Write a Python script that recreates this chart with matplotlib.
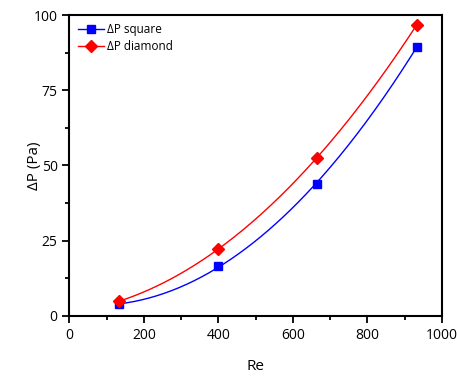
import numpy as np
import matplotlib
matplotlib.use("Agg")
import matplotlib.pyplot as plt
from matplotlib.ticker import MultipleLocator

re_vals = [133, 399, 664, 932]
dp_square = [3.8, 16.6, 43.8, 89.4]
dp_diamond = [4.8, 22.3, 52.4, 96.7]

plt.rcParams['font.family'] = ['Open Sans', 'DejaVu Sans']

fig = plt.figure(figsize=(4.57, 3.76), dpi=100)
ax = fig.add_axes([0.152, 0.16, 0.815, 0.80])

xs = np.linspace(min(re_vals), max(re_vals), 200)
for y, c, m, lab, ms in [(dp_square, '#0000ff', 's', 'ΔP square', 6),
                          (dp_diamond, '#ff0000', 'D', 'ΔP diamond', 6)]:
    p = np.polyfit(re_vals, y, 2)
    ax.plot(xs, np.polyval(p, xs), color=c, lw=1.0)
    ax.plot(re_vals, y, ls='none', marker=m, color=c, ms=ms)
    ax.plot([], [], color=c, marker=m, ms=ms, lw=1.0, label=lab)

ax.set_xlim(0, 1000)
ax.set_ylim(0, 100)
ax.xaxis.set_major_locator(MultipleLocator(200))
ax.xaxis.set_minor_locator(MultipleLocator(100))
ax.yaxis.set_major_locator(MultipleLocator(25))
ax.yaxis.set_minor_locator(MultipleLocator(12.5))
ax.tick_params(which='both', direction='out', top=False, right=False, labelsize=10, width=1.3)
ax.tick_params(which='major', length=5)
ax.tick_params(which='minor', length=3)
for s in ax.spines.values():
    s.set_linewidth(1.5)
ax.set_xlabel('Re', fontsize=11, labelpad=12)
ax.set_ylabel('ΔP (Pa)', fontsize=11, labelpad=-6)
ax.legend(loc='upper left', frameon=False, fontsize=8.5, handlelength=2.2,
          borderaxespad=0.3, handletextpad=0.3, labelspacing=0.3)
fig.savefig('out.png', dpi=100)
